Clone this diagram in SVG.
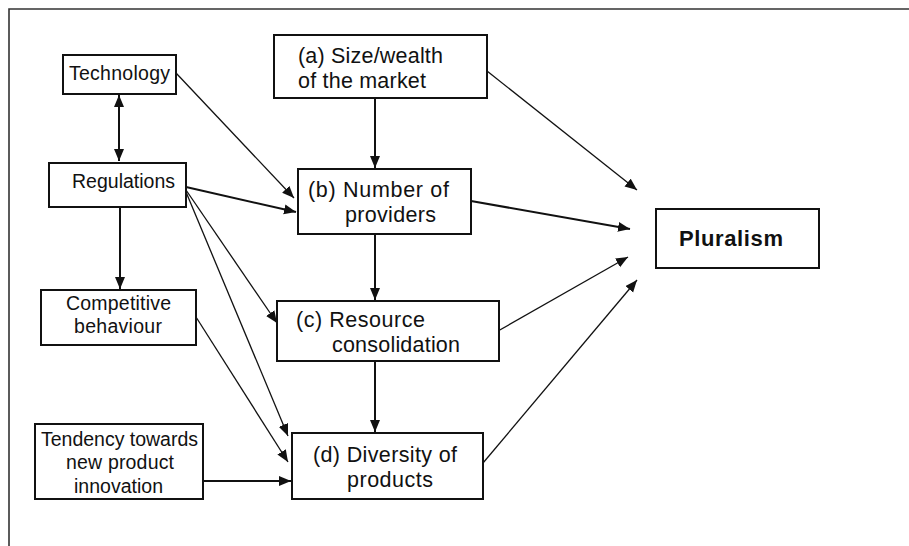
<svg xmlns="http://www.w3.org/2000/svg" width="909" height="546" viewBox="0 0 909 546">
<style>
.box{fill:#fff;stroke:#111;stroke-width:2}
.t{font-family:"Liberation Sans",Arial,sans-serif;font-size:19.5px;fill:#111}
.m{font-family:"Liberation Sans",Arial,sans-serif;font-size:21.5px;fill:#111}
.b{font-family:"Liberation Sans",Arial,sans-serif;font-size:22px;font-weight:bold;fill:#111}
.c{stroke:#111;stroke-width:1.3;fill:none;marker-end:url(#ah)}
.v{stroke:#111;stroke-width:2;fill:none;marker-end:url(#ah)}
</style>
<defs>
<marker id="ah" markerUnits="userSpaceOnUse" markerWidth="14" markerHeight="12" refX="12" refY="5" orient="auto">
<path d="M0,0 L12,5 L0,10 Z" fill="#111"/>
</marker>
<marker id="as" markerUnits="userSpaceOnUse" markerWidth="14" markerHeight="12" refX="0" refY="5" orient="auto">
<path d="M12,0 L0,5 L12,10 Z" fill="#111"/>
</marker>
</defs>
<rect width="909" height="546" fill="#fff"/>
<path d="M9,546 L9,9 L909,9" fill="none" stroke="#333" stroke-width="1.6"/>

<g id="connectors">
<line x1="119" y1="95" x2="119" y2="161" class="v" marker-start="url(#as)"/>
<line x1="176" y1="73" x2="294" y2="198" class="c"/>
<line x1="186" y1="187" x2="296" y2="212" class="v"/>
<line x1="120" y1="207" x2="120" y2="289" class="v"/>
<line x1="186" y1="190" x2="277" y2="323" class="c"/>
<line x1="186" y1="192" x2="288" y2="436" class="c"/>
<line x1="196" y1="317" x2="288" y2="462" class="c"/>
<line x1="203" y1="481" x2="291" y2="481" class="v"/>
<line x1="375" y1="98" x2="375" y2="168" class="v"/>
<line x1="375" y1="234" x2="375" y2="300" class="v"/>
<line x1="375" y1="361" x2="375" y2="432" class="v"/>
<line x1="487" y1="71" x2="637" y2="190" class="c"/>
<line x1="471" y1="201" x2="630" y2="229" class="v"/>
<line x1="498" y1="331" x2="628" y2="257" class="c"/>
<line x1="483" y1="463" x2="637" y2="280" class="c"/>
</g>

<g id="technology">
<rect class="box" x="63" y="55" width="113" height="39"/>
<text class="t" x="69" y="80" textLength="101">Technology</text>
</g>
<g id="regulations">
<rect class="box" x="49" y="163" width="137" height="44"/>
<text class="t" x="72" y="188" textLength="103">Regulations</text>
</g>
<g id="competitive">
<rect class="box" x="41" y="290" width="155" height="55"/>
<text class="t" x="66" y="310" textLength="105">Competitive</text>
<text class="t" x="74" y="333" textLength="88">behaviour</text>
</g>
<g id="tendency">
<rect class="box" x="35" y="424" width="168" height="75"/>
<text class="t" x="41" y="446" textLength="157">Tendency towards</text>
<text class="t" x="66" y="469" textLength="108">new product</text>
<text class="t" x="74" y="493" textLength="89">innovation</text>
</g>
<g id="size">
<rect class="box" x="274" y="35" width="213" height="63"/>
<text class="m" x="298" y="63" textLength="145">(a) Size/wealth</text>
<text class="m" x="298" y="88" textLength="128">of the market</text>
</g>
<g id="providers">
<rect class="box" x="298" y="169" width="173" height="65"/>
<text class="m" x="308" y="197" textLength="141">(b) Number of</text>
<text class="m" x="345" y="222" textLength="91">providers</text>
</g>
<g id="resource">
<rect class="box" x="277" y="301" width="222" height="60"/>
<text class="m" x="296" y="327" textLength="129">(c) Resource</text>
<text class="m" x="332" y="352" textLength="128">consolidation</text>
</g>
<g id="diversity">
<rect class="box" x="292" y="433" width="191" height="66"/>
<text class="m" x="313" y="462" textLength="144">(d) Diversity of</text>
<text class="m" x="347" y="487" textLength="86">products</text>
</g>
<g id="pluralism">
<rect class="box" x="656" y="209" width="163" height="59"/>
<text class="b" x="679" y="246" textLength="104">Pluralism</text>
</g>
</svg>
